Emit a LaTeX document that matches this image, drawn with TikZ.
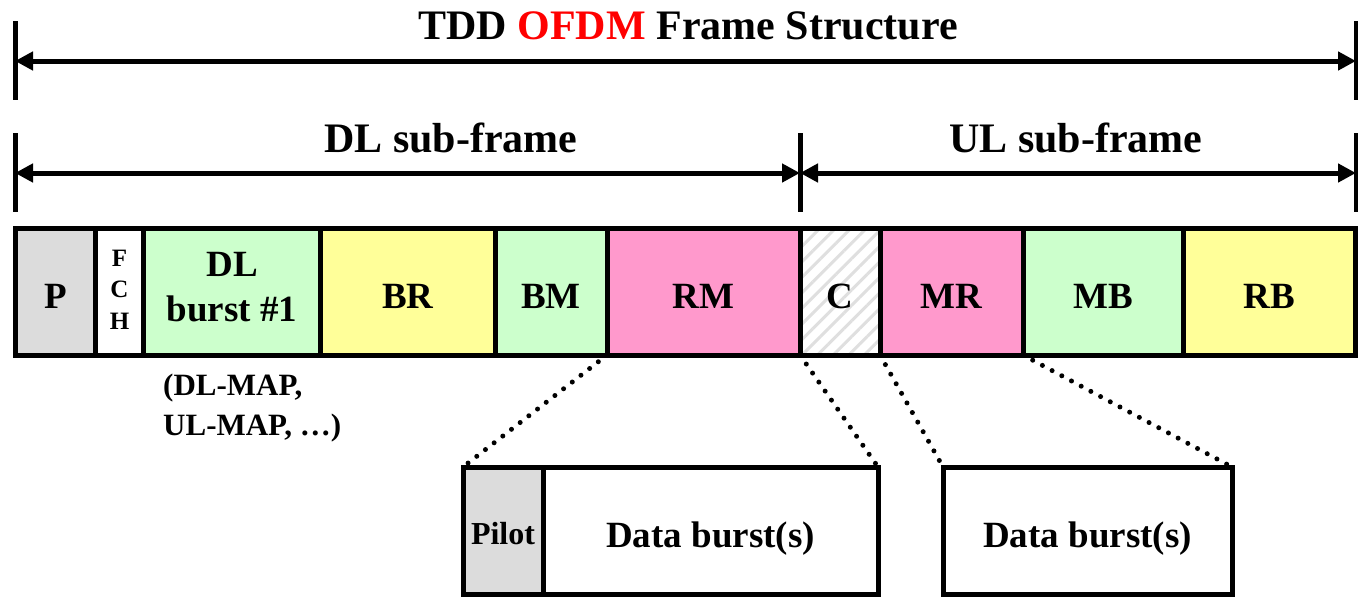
\documentclass[tikz,border=0pt]{standalone}
\usepackage{fontspec}
\setmainfont{Liberation Serif}
\usetikzlibrary{positioning,arrows.meta,patterns.meta}
\definecolor{pgray}{HTML}{DCDCDC}
\definecolor{bgreen}{HTML}{CCFFCC}
\definecolor{byellow}{HTML}{FFFF99}
\definecolor{bpink}{HTML}{FF99CC}
\begin{document}
\begin{tikzpicture}[x=1pt,y=-1pt,
    blk/.style = {draw, line width=5pt, inner sep=0pt, outer sep=0pt, minimum height=127pt,
                  font=\fontsize{37}{45}\selectfont\bfseries, align=center},
    low/.style = {text height=34pt, text depth=0pt},
    tick/.style = {line width=5pt},
    dim/.style = {line width=5pt, {Triangle[length=18pt,width=18pt]}-{Triangle[length=18pt,width=18pt]}},
    zoomline/.style = {line width=5pt, line cap=round, dash pattern=on 0pt off 11pt},
    head/.style = {font=\fontsize{42}{48}\selectfont\bfseries}]
    \useasboundingbox (0,0) rectangle (1358,597);
    % ticks and dimension arrows
    \coordinate (t1) at (15,21);   \coordinate (b1) at (15,100);
    \coordinate (t2) at (1356,21); \coordinate (b2) at (1356,100);
    \coordinate (t3) at (15,133);  \coordinate (b3) at (15,212);
    \coordinate (t4) at (800,133); \coordinate (b4) at (800,212);
    \coordinate (t5) at (1356,133);\coordinate (b5) at (1356,212);
    \draw[tick] (t1) -- (b1);
    \draw[tick] (t2) -- (b2);
    \draw[tick] (t3) -- (b3);
    \draw[tick] (t4) -- (b4);
    \draw[tick] (t5) -- (b5);
    \coordinate (f1) at (15,61);  \coordinate (f2) at (1356,61);
    \coordinate (d1) at (15,173); \coordinate (d2) at (800,173);
    \coordinate (u2) at (1356,173);
    \draw[dim] (f1) -- (f2);
    \draw[dim] (d1) -- (d2);
    \draw[dim] (d2) -- (u2);
    \node[head] (title) at (688,26) {TDD \textcolor{red}{OFDM} Frame Structure};
    \node[head] (dlsub) at (451,138) {DL sub-frame};
    \node[head] (ulsub) at (1076,138) {UL sub-frame};
    % frame
    \node[blk, low, fill=pgray, minimum width=80pt, anchor=west] (P) at (15.5,291.5) {P};
    \node[blk, fill=white, minimum width=48pt, right=0pt of P] (FCH) {};
    \node[align=center, font=\fontsize{25}{31.5}\selectfont\bfseries] (fchlab) at ([yshift=2pt]FCH.center) {F\\C\\H};
    \node[blk, fill=bgreen, minimum width=177pt, right=0pt of FCH] (DL) {};
    \node[align=center, font=\fontsize{37}{45}\selectfont\bfseries] (dllab) at ([yshift=4pt]DL.center) {DL\\burst \#1};
    \node[blk, low, fill=byellow, minimum width=174.5pt, right=0pt of DL] (BR) {BR};
    \node[blk, low, fill=bgreen, minimum width=112pt, right=0pt of BR] (BM) {BM};
    \node[blk, low, fill=bpink, minimum width=193pt, right=0pt of BM] (RM) {RM};
    \node[blk, low, preaction={fill=white}, pattern={Lines[angle=45,distance=11pt,line width=3pt]}, pattern color=gray!25,
          minimum width=80pt, right=0pt of RM] (C) {C};
    \node[blk, low, fill=bpink, minimum width=143pt, right=0pt of C] (MR) {MR};
    \node[blk, low, fill=bgreen, minimum width=160pt, right=0pt of MR] (MB) {MB};
    \node[blk, low, fill=byellow, minimum width=172pt, right=0pt of MB] (RB) {RB};
    \node[anchor=west, align=left, inner sep=0pt, font=\fontsize{31}{40}\selectfont\bfseries] (maps) at (163,408) {(DL-MAP,\\UL-MAP, …)};
    % zoomed bursts
    \node[blk, fill=pgray, minimum width=80pt, anchor=west, font=\fontsize{32}{36}\selectfont\bfseries,
          text height=27pt, text depth=0pt] (pilot) at (463,530.5) {Pilot};
    \node[blk, low, fill=white, minimum width=335pt, right=0pt of pilot] (data1) {Data burst(s)};
    \node[blk, low, fill=white, minimum width=289pt, anchor=west] (data2) at (943,530.5) {Data burst(s)};
    \draw[zoomline] (BM.south east) -- (pilot.north west);
    \draw[zoomline] (RM.south east) -- (data1.north east);
    \draw[zoomline] (C.south east) -- (data2.north west);
    \draw[zoomline] (MB.south west) -- (data2.north east);
\end{tikzpicture}
\end{document}
